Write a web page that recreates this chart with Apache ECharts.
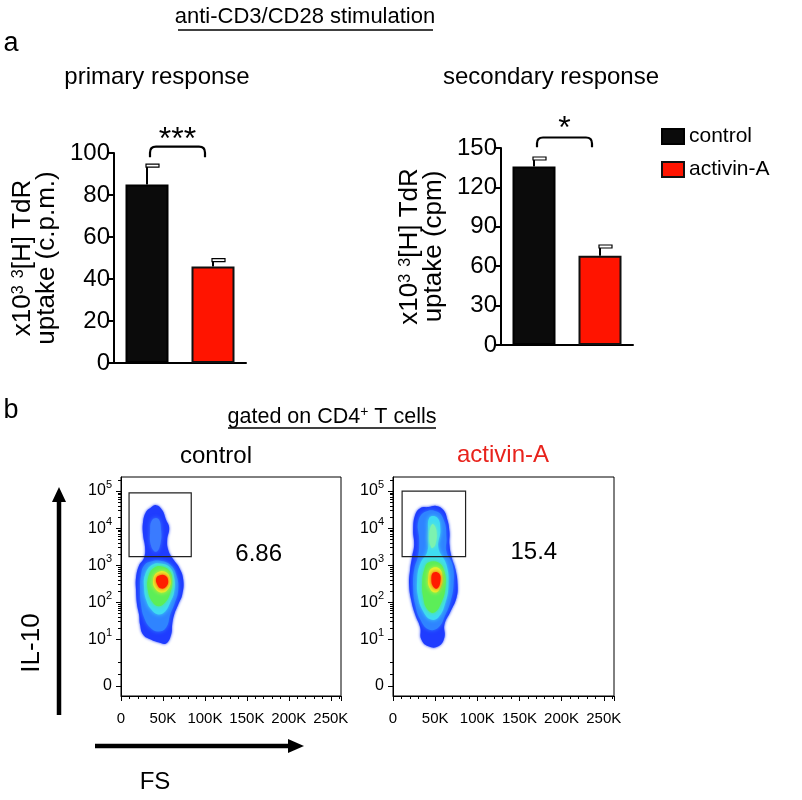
<!DOCTYPE html>
<html><head><meta charset="utf-8">
<script src="https://cdn.jsdelivr.net/npm/echarts@6/dist/echarts.min.js"></script>
<style>html,body{margin:0;padding:0;background:#fff}#c{width:802px;height:800px}</style>
</head><body><div id="c"></div>
<script>
const FONT = 'Liberation Sans, Arial, Helvetica, sans-serif';

// ---------- data: bar charts ----------
const groups = ['control', 'activin-A'];
const primaryMean = [85, 46];
const primaryErr = [9, 3];
const secondaryMean = [136, 68];
const secondaryErr = [6, 7];
const primaryAxis = {min: 0, max: 100, step: 20};
const secondaryAxis = {min: 0, max: 150, step: 30};
const sigPrimary = {label: '***', top: 103, end: 98, textAt: 106};
const sigSecondary = {label: '*', top: 158, end: 150.5, textAt: 164};

// ---------- data: flow plots (FS in thousands, IL-10 in display decades) ----------
const fsTickValues = [0, 50, 100, 150, 200, 250];
const fsRange = [0, 262.144];
const il10Range = [-0.53, 5.38];
const il10TickPos = [-0.26, 1, 2, 3, 4, 5];
const il10TickLabels = ['0', '10{s|1}', '10{s|2}', '10{s|3}', '10{s|4}', '10{s|5}'];
const il10MinorLinear = [0.06, 0.38];
const gateControl = [9.6, 83.7, 3.23, 4.95];
const gateActivin = [10.8, 86.1, 3.23, 5.0];
const gatePct = ['6.86', '15.4'];

// contour polygons, control
const ctlBlue = [[34.7,4.54],[41.9,4.62],[49.0,4.49],[53.8,4.22],[57.4,4.01],[55.0,3.68],[56.2,3.42],[61.0,3.20],[69.4,2.93],[74.2,2.61],[73.0,2.21],[68.2,1.94],[63.4,1.67],[61.0,1.40],[59.8,1.13],[53.8,0.89],[44.3,0.92],[34.7,1.00],[26.3,1.13],[22.7,1.40],[21.5,1.67],[19.1,1.94],[17.9,2.34],[17.9,2.66],[21.5,2.99],[27.5,3.20],[28.7,3.47],[26.3,3.82],[26.3,4.17],[29.9,4.44]];
const ctlLobe = [[37.1,4.22],[44.3,4.25],[47.8,3.95],[46.7,3.55],[41.9,3.36],[35.9,3.52],[34.7,3.90]];
const ctlBlue2 = [[34.7,3.09],[46.7,3.12],[58.6,3.01],[65.8,2.74],[68.2,2.34],[63.4,1.94],[58.6,1.67],[53.8,1.32],[44.3,1.21],[34.7,1.32],[27.5,1.59],[23.9,1.94],[22.7,2.34],[23.9,2.74],[27.5,2.99]];
const ctlCyan = [[37.1,3.01],[49.0,3.04],[58.6,2.93],[63.4,2.66],[63.4,2.29],[58.6,1.99],[52.6,1.75],[44.3,1.67],[35.9,1.81],[29.9,2.07],[27.5,2.40],[28.7,2.74]];
const ctlGreen = [[39.5,2.93],[50.2,2.96],[58.6,2.82],[61.0,2.56],[58.6,2.24],[52.6,1.99],[44.3,1.89],[37.1,2.02],[32.3,2.29],[32.3,2.66]];
const ctlYellow = [[43.1,2.80],[52.6,2.82],[58.6,2.64],[57.4,2.40],[49.0,2.26],[40.7,2.37],[38.3,2.61]];
const ctlRed = [[45.5,2.72],[52.6,2.72],[56.2,2.58],[53.8,2.42],[47.8,2.37],[43.1,2.48],[41.9,2.64]];

// contour polygons, activin-A
const actBlue = [[41.9,4.57],[51.4,4.60],[59.8,4.49],[64.6,4.22],[67.0,3.90],[67.0,3.55],[69.4,3.23],[74.2,2.88],[76.6,2.48],[75.4,2.13],[68.2,1.75],[61.0,1.40],[61.0,1.05],[53.8,0.81],[41.9,0.81],[33.5,1.00],[32.3,1.32],[26.3,1.67],[21.5,2.07],[19.1,2.48],[20.3,2.88],[22.7,3.23],[25.1,3.55],[23.9,3.95],[26.3,4.36],[32.3,4.54]];
const actBlue2 = [[38.3,4.44],[52.6,4.44],[61.0,4.17],[63.4,3.74],[63.4,3.36],[70.6,3.01],[71.8,2.48],[68.2,2.02],[62.2,1.67],[53.8,1.32],[41.9,1.27],[32.3,1.54],[26.3,1.94],[23.9,2.40],[25.1,2.88],[29.9,3.26],[31.1,3.68],[29.9,4.17]];
const actCyan = [[43.1,4.28],[52.6,4.28],[56.2,3.95],[53.8,3.47],[63.4,3.01],[65.8,2.48],[62.2,1.99],[53.8,1.59],[44.3,1.54],[35.9,1.75],[29.9,2.13],[28.7,2.61],[32.3,3.04],[40.7,3.36],[41.9,3.82]];
const actLobe = [[46.7,4.11],[51.4,3.95],[50.2,3.55],[45.5,3.47],[43.1,3.82]];
const actGreen = [[41.9,3.07],[53.8,3.07],[61.0,2.83],[62.2,2.40],[57.4,1.99],[49.0,1.72],[40.7,1.81],[35.9,2.13],[34.7,2.56],[37.1,2.88]];
const actYellow = [[45.5,2.91],[55.0,2.91],[58.6,2.66],[56.2,2.40],[50.2,2.26],[43.1,2.40],[41.9,2.69]];
const actRed = [[47.8,2.80],[55.0,2.77],[56.2,2.56],[52.6,2.37],[47.8,2.42],[45.5,2.61]];

// ---------- styles ----------
const COLORS = {control: '#0b0b0b', activin: '#ff1400'};
const LEVEL = {blue: '#1f3cff', blue2: '#2f84ff', lobe: '#3a7bff', cyan: '#3fdcf2', lobeG: '#7cf2b0', green: '#5cee58', yellow: '#e9f52c', red: '#ff1c00'};
const ctlLayers = [[ctlBlue, 'blue'], [ctlLobe, 'lobe'], [ctlBlue2, 'blue2'], [ctlCyan, 'cyan'], [ctlGreen, 'green'], [ctlYellow, 'yellow'], [ctlRed, 'red']];
const actLayers = [[actBlue, 'blue'], [actBlue2, 'blue2'], [actCyan, 'cyan'], [actLobe, 'lobeG'], [actGreen, 'green'], [actYellow, 'yellow'], [actRed, 'red']];

const minorLog = [];
for (let d = 1; d <= 5; d++) for (let k = 2; k <= 9; k++) { const v = d + Math.log10(k); if (v < il10Range[1]) minorLog.push(+v.toFixed(4)); }
const il10Minor = il10MinorLinear.concat(minorLog);

const chart = echarts.init(document.getElementById('c'), null, {renderer: 'canvas'});

function barYAxis(gi, ax, nameTxt) {
  return {
    type: 'value', gridIndex: gi, min: ax.min, max: ax.max, interval: ax.step,
    axisLine: {show: true, lineStyle: {color: '#000', width: 2}},
    axisTick: {show: true, length: 6, lineStyle: {color: '#000', width: 2}},
    axisLabel: {color: '#000', fontSize: 24, fontFamily: FONT, margin: 4},
    splitLine: {show: false},
    name: nameTxt, nameLocation: 'middle', nameRotate: 90, nameGap: 55,
    nameTextStyle: {color: '#000', fontSize: 26, fontFamily: FONT, lineHeight: 24, align: 'center',
      rich: {s: {fontSize: 16, verticalAlign: 'top', lineHeight: 24, fontFamily: FONT, color: '#000'}}}
  };
}
function barXAxis(gi) {
  return {type: 'category', gridIndex: gi, data: groups,
    axisLine: {show: true, lineStyle: {color: '#000', width: 2}},
    axisTick: {show: false}, axisLabel: {show: false}, splitLine: {show: false}};
}
function flowXAxis(gi) {
  return {type: 'value', gridIndex: gi, min: fsRange[0], max: fsRange[1], interval: 50,
    axisLine: {show: true, onZero: false, lineStyle: {color: '#000', width: 1}},
    axisTick: {show: true, length: 5, lineStyle: {color: '#000'}},
    minorTick: {show: true, splitNumber: 5, length: 3, lineStyle: {color: '#000'}},
    axisLabel: {color: '#000', fontSize: 15, fontFamily: FONT, margin: 15,
      formatter: v => v === 0 ? '0' : v + 'K'},
    splitLine: {show: false}, minorSplitLine: {show: false}};
}
function flowYAxes(gi) {
  return [{
    type: 'value', gridIndex: gi, min: il10Range[0], max: il10Range[1], position: 'left',
    axisLine: {show: true, onZero: false, lineStyle: {color: '#000', width: 1}},
    axisTick: {show: true, length: 5, customValues: il10TickPos, lineStyle: {color: '#000'}},
    axisLabel: {color: '#000', fontSize: 16, fontFamily: FONT, margin: 9, customValues: il10TickPos,
      formatter: v => { const i = il10TickPos.findIndex(p => Math.abs(p - v) < 1e-6); return i >= 0 ? il10TickLabels[i] : ''; },
      rich: {s: {fontSize: 11, fontFamily: FONT, color: '#000', verticalAlign: 'top', lineHeight: 24}}},
    splitLine: {show: false}
  }, {
    type: 'value', gridIndex: gi, min: il10Range[0], max: il10Range[1], position: 'left',
    axisLine: {show: false}, axisLabel: {show: false}, splitLine: {show: false},
    axisTick: {show: true, length: 3, customValues: il10Minor, lineStyle: {color: '#000'}}
  }];
}

function barSeries(gi, means, stackName) {
  return [
    {type: 'bar', name: groups[0], xAxisIndex: gi, yAxisIndex: gi === 0 ? 0 : 1, stack: stackName, barWidth: 43,
      data: [means[0], '-'], itemStyle: {color: COLORS.control, borderColor: '#000', borderWidth: 2}, silent: true},
    {type: 'bar', name: groups[1], xAxisIndex: gi, yAxisIndex: gi === 0 ? 0 : 1, stack: stackName, barWidth: 43,
      data: ['-', means[1]], itemStyle: {color: COLORS.activin, borderColor: '#111', borderWidth: 2}, silent: true}
  ];
}
function errSeries(gi, means, errs) {
  return {type: 'custom', xAxisIndex: gi, yAxisIndex: gi === 0 ? 0 : 1, silent: true, z: 1,
    data: means.map((m, i) => [i, m, errs[i]]),
    renderItem: (p, api) => {
      const base = api.coord([api.value(0), api.value(1)]);
      const top = api.coord([api.value(0), api.value(1) + api.value(2)]);
      return {type: 'group', children: [
        {type: 'line', shape: {x1: base[0], y1: base[1], x2: top[0], y2: top[1]}, style: {stroke: '#000', lineWidth: 2}},
        {type: 'rect', shape: {x: top[0] - 1, y: top[1] - 1.5, width: 13, height: 3}, style: {fill: '#fff', stroke: '#000', lineWidth: 1.2}}
      ]};
    }};
}
function sigSeries(gi, sig) {
  return {type: 'custom', xAxisIndex: gi, yAxisIndex: gi === 0 ? 0 : 1, silent: true, z: 5,
    data: [[0, sig.top]],
    renderItem: (p, api) => {
      const a = api.coord([0, sig.top]), b = api.coord([1, sig.top]);
      const e = api.coord([0, sig.end]);
      const t = api.coord([0, sig.textAt]);
      const x1 = a[0] + 3, x2 = b[0] - 8, y = a[1], y2 = e[1], r = 6;
      const path = `M${x1},${y2} L${x1},${y + r} Q${x1},${y} ${x1 + r},${y} L${x2 - r},${y} Q${x2},${y} ${x2},${y + r} L${x2},${y2}`;
      return {type: 'group', children: [
        {type: 'path', shape: {pathData: path}, style: {fill: null, stroke: '#000', lineWidth: 2.2}},
        {type: 'text', style: {text: sig.label, x: (x1 + x2) / 2, y: t[1], align: 'center', verticalAlign: 'middle',
          fontSize: 32, fontFamily: FONT, fill: '#000'}}
      ]};
    }};
}
function contourSeries(gi, layers) {
  return {type: 'custom', xAxisIndex: gi, yAxisIndex: 2 * gi - 2, silent: true, clip: true, z: 2,
    data: layers.map((l, i) => [i]),
    renderItem: (p, api) => {
      const layer = layers[p.dataIndex];
      const pts = layer[0].map(q => api.coord(q));
      const c = LEVEL[layer[1]];
      return {type: 'polygon', shape: {points: pts, smooth: 0.45},
        style: {fill: c, shadowBlur: layer[1] === 'blue' ? 3 : 4, shadowColor: c}};
    }};
}
function gateSeries(gi, g, pct, labelAt) {
  return {type: 'custom', xAxisIndex: gi, yAxisIndex: 2 * gi - 2, silent: true, z: 4,
    data: [[g[0], g[2]]],
    renderItem: (p, api) => {
      const a = api.coord([g[0], g[3]]), b = api.coord([g[1], g[2]]);
      const t = api.coord(labelAt);
      return {type: 'group', children: [
        {type: 'rect', shape: {x: a[0], y: a[1], width: b[0] - a[0], height: b[1] - a[1]},
          style: {fill: null, stroke: '#222', lineWidth: 1.2}},
        {type: 'text', style: {text: pct, x: t[0], y: t[1], align: 'center', verticalAlign: 'middle',
          fontSize: 24, fontFamily: FONT, fill: '#000'}}
      ]};
    }};
}

const yName1 = 'x10{s|3} {s|3}[H] TdR\nuptake (c.p.m.)';
const yName2 = 'x10{s|3} {s|3}[H] TdR\nuptake (cpm)';

const T = (text, x, y, size, extra) => Object.assign({type: 'text', x, y, silent: true,
  style: Object.assign({text, fontSize: size, fontFamily: FONT, fill: '#000', align: 'center', verticalAlign: 'middle'}, (extra && extra.style) || {})},
  extra && extra.rotation ? {rotation: extra.rotation} : {});

const option = {
  backgroundColor: '#fff',
  animation: false,
  grid: [
    {left: 114, top: 153, width: 132, height: 210},
    {left: 501, top: 148, width: 132, height: 197},
    {left: 121, top: 477, width: 220, height: 219, show: true, borderColor: '#000', borderWidth: 1},
    {left: 393, top: 477, width: 221, height: 219, show: true, borderColor: '#000', borderWidth: 1}
  ],
  xAxis: [barXAxis(0), barXAxis(1), flowXAxis(2), flowXAxis(3)],
  yAxis: [barYAxis(0, primaryAxis, yName1), barYAxis(1, secondaryAxis, yName2)].concat(flowYAxes(2), flowYAxes(3)),
  legend: {
    data: groups, orient: 'vertical', left: 656, top: 121, itemWidth: 22, itemHeight: 15, itemGap: 12,
    icon: 'rect', selectedMode: false,
    textStyle: {color: '#000', fontSize: 21, fontFamily: FONT, padding: [0, 0, 0, 0]}
  },
  series: [].concat(
    barSeries(0, primaryMean, 'p'), barSeries(1, secondaryMean, 's'),
    [errSeries(0, primaryMean, primaryErr), errSeries(1, secondaryMean, secondaryErr),
     sigSeries(0, sigPrimary), sigSeries(1, sigSecondary),
     contourSeries(2, ctlLayers), contourSeries(3, actLayers),
     gateSeries(2, gateControl, gatePct[0], [164, 3.28]), gateSeries(3, gateActivin, gatePct[1], [167, 3.34])]
  ),
  graphic: [
    T('anti-CD3/CD28 stimulation', 305, 17, 22),
    {type: 'line', silent: true, shape: {x1: 178, y1: 30, x2: 433, y2: 30}, style: {stroke: '#000', lineWidth: 1.5}},
    T('a', 11, 44, 27),
    T('primary response', 157, 77, 24),
    T('secondary response', 551, 77, 24),
    T('b', 11, 411, 27),
    {type: 'text', x: 332, y: 417, silent: true, style: {text: 'gated on CD4{s|+} T cells', fontSize: 21.5, fontFamily: FONT, fill: '#000',
      align: 'center', verticalAlign: 'middle', rich: {s: {fontSize: 14, verticalAlign: 'top', lineHeight: 24, fontFamily: FONT, fill: '#000'}}}},
    {type: 'line', silent: true, shape: {x1: 228, y1: 428, x2: 436, y2: 428}, style: {stroke: '#000', lineWidth: 1.5}},
    T('control', 216, 456, 24),
    T('activin-A', 503, 455, 24, {style: {fill: '#e8231c'}}),
    T('IL-10', 32, 643, 26, {rotation: Math.PI / 2}),
    T('FS', 155, 782, 24),
    {type: 'line', silent: true, shape: {x1: 59, y1: 715, x2: 59, y2: 498}, style: {stroke: '#000', lineWidth: 4.5}},
    {type: 'polygon', silent: true, shape: {points: [[52, 502], [66, 502], [59, 487]]}, style: {fill: '#000'}},
    {type: 'line', silent: true, shape: {x1: 95, y1: 746, x2: 292, y2: 746}, style: {stroke: '#000', lineWidth: 4.5}},
    {type: 'polygon', silent: true, shape: {points: [[288, 739], [288, 753], [304, 746]]}, style: {fill: '#000'}}
  ]
};
chart.setOption(option);
</script>
</body></html>
